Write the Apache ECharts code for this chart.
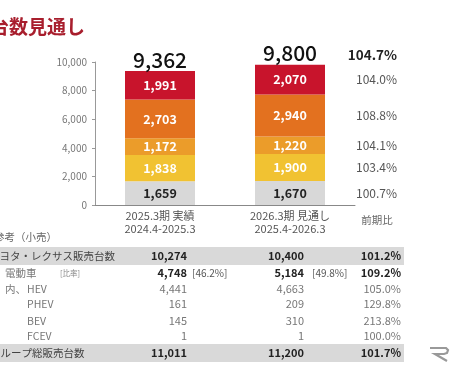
<!DOCTYPE html>
<html><head><meta charset="utf-8">
<script src="https://cdn.jsdelivr.net/npm/echarts@6/dist/echarts.min.js"></script>
<style>html,body{margin:0;padding:0;background:#fff}#c{width:452px;height:380px}</style>
</head><body><div id="c"></div>
<script>
const categories = ['2025.3期 実績\n2024.4-2025.3', '2026.3期 見通し\n2025.4-2026.3'];
const segBase   = [1659, 1670];
const segYellow = [1838, 1900];
const segLtOr   = [1172, 1220];
const segOrange = [2703, 2940];
const segRed    = [1991, 2070];
const totals    = [9362, 9800];
const segRatios = ['100.7%', '103.4%', '104.1%', '108.8%', '104.0%'];
const totalRatio = '104.7%';
const yTicks = [0, 2000, 4000, 6000, 8000, 10000];

const rowLabels = ['トヨタ・レクサス販売台数', '電動車', 'HEV', 'PHEV', 'BEV', 'FCEV', 'グループ総販売台数'];
const col2025 = ['10,274', '4,748', '4,441', '161', '145', '1', '11,011'];
const col2026 = ['10,400', '5,184', '4,663', '209', '310', '1', '11,200'];
const share2025 = ['', '[46.2%]', '', '', '', '', ''];
const share2026 = ['', '[49.8%]', '', '', '', '', ''];
const colRatio = ['101.2%', '109.2%', '105.0%', '129.8%', '213.8%', '100.0%', '101.7%'];

const FONT = '"Noto Sans CJK JP", "Noto Sans", sans-serif';
const colors = ['#d8d8d8', '#f1c232', '#eb9c2a', '#e3711f', '#c8142c'];
const segData = [segBase, segYellow, segLtOr, segOrange, segRed];

const chart = echarts.init(document.getElementById('c'));
const series = segData.map((d, i) => ({
  type: 'bar', stack: 'a', barWidth: 70, data: d,
  itemStyle: { color: colors[i] },
  label: {
    show: true, position: 'inside', fontFamily: FONT, fontWeight: 'bold', fontSize: 12.5,
    color: i === 0 ? '#222' : '#fff',
    formatter: p => p.value.toLocaleString('en-US')
  }
}));
series.push({
  type: 'bar', stack: 'a', barWidth: 70, data: totals.map(() => 0),
  itemStyle: { color: 'transparent' },
  label: {
    show: true, position: 'top', distance: 1, fontFamily: FONT, fontSize: 21, fontWeight: 500, color: '#111',
    formatter: p => totals[p.dataIndex].toLocaleString('en-US')
  }
});

chart.setOption({
  backgroundColor: '#fff',
  animation: false,
  grid: { left: 95, top: 62, width: 260, height: 143 },
  xAxis: {
    type: 'category', data: categories,
    axisLine: { lineStyle: { color: '#888' } },
    axisTick: { show: false },
    axisLabel: { fontFamily: FONT, fontSize: 11, color: '#555', lineHeight: 13, margin: 4 }
  },
  yAxis: {
    type: 'value', min: 0, max: 10000, interval: 2000,
    axisLine: { show: true, lineStyle: { color: '#999' } },
    axisTick: { show: true, length: 3, lineStyle: { color: '#999' } },
    splitLine: { show: false },
    axisLabel: { fontFamily: FONT, fontSize: 10, color: '#777', margin: 8,
      formatter: v => v.toLocaleString('en-US') }
  },
  series: series
});

// right-hand ratio column, aligned to the 2nd bar's segments
const g = [];
let cum = 0;
segData.forEach((d, i) => {
  const mid = cum + d[1] / 2; cum += d[1];
  const pt = chart.convertToPixel({ gridIndex: 0 }, [1, mid]);
  g.push({ type: 'text', x: 397, y: pt[1], style: { text: segRatios[i], align: 'right', verticalAlign: 'middle',
    font: '12px ' + FONT, fill: '#555' } });
});
g.push({ type: 'text', x: 397, y: 55, style: { text: totalRatio, align: 'right', verticalAlign: 'middle',
  font: 'bold 13.5px ' + FONT, fill: '#222' } });
g.push({ type: 'text', x: 377, y: 220, style: { text: '前期比', align: 'center', verticalAlign: 'middle',
  font: '10.5px ' + FONT, fill: '#666' } });

// title
g.push({ type: 'text', x: -10, y: 27, style: { text: '台数見通し', verticalAlign: 'middle',
  font: 'bold 19px ' + FONT, fill: '#a81e2d' } });
// table heading
g.push({ type: 'text', x: -6, y: 237, style: { text: '参考（小売）', verticalAlign: 'middle',
  font: '10.5px ' + FONT, fill: '#666' } });

// table
const rowY = [256, 273, 289, 304, 321, 336, 353];
const boldRows = [0, 1, 6];
g.push({ type: 'rect', shape: { x: 0, y: 247, width: 404, height: 18 }, style: { fill: '#d9d9d9' }, z: -1 });
g.push({ type: 'rect', shape: { x: 0, y: 344, width: 404, height: 18 }, style: { fill: '#d9d9d9' }, z: -1 });
rowLabels.forEach((lab, i) => {
  const y = rowY[i];
  const bold = boldRows.indexOf(i) >= 0;
  let lx = 27;
  if (i === 0) lx = -11;
  else if (i === 6) lx = -10;
  else if (i === 1) lx = 5;
  g.push({ type: 'text', x: lx, y: y, style: { text: lab, verticalAlign: 'middle',
    font: '10.5px ' + FONT, fill: (i === 0 || i === 6) ? '#444' : '#777' } });
  if (i === 2) g.push({ type: 'text', x: 5, y: y, style: { text: '内、', verticalAlign: 'middle', font: '10.5px ' + FONT, fill: '#777' } });
  if (i === 1) g.push({ type: 'text', x: 60, y: y, style: { text: '[比率]', verticalAlign: 'middle', font: '7.5px ' + FONT, fill: '#888' } });
  const nf = (bold ? 'bold ' : '') + '11px ' + FONT;
  const nc = bold ? '#222' : '#777';
  g.push({ type: 'text', x: 187, y: y, style: { text: col2025[i], align: 'right', verticalAlign: 'middle', font: nf, fill: nc } });
  g.push({ type: 'text', x: 304, y: y, style: { text: col2026[i], align: 'right', verticalAlign: 'middle', font: nf, fill: nc } });
  g.push({ type: 'text', x: 401, y: y, style: { text: colRatio[i], align: 'right', verticalAlign: 'middle', font: nf, fill: nc } });
  if (share2025[i]) g.push({ type: 'text', x: 192, y: y, style: { text: share2025[i], verticalAlign: 'middle', font: '10px ' + FONT, fill: '#555' } });
  if (share2026[i]) g.push({ type: 'text', x: 312, y: y, style: { text: share2026[i], verticalAlign: 'middle', font: '10px ' + FONT, fill: '#555' } });
});
// logo mark
g.push({ type: 'polyline', shape: { points: [[430, 348], [446, 348], [448, 350], [447, 353], [444, 354], [435, 354], [447, 361]] },
  style: { fill: null, stroke: '#999', lineWidth: 2.2 } });

chart.setOption({ graphic: g });
</script></body></html>
